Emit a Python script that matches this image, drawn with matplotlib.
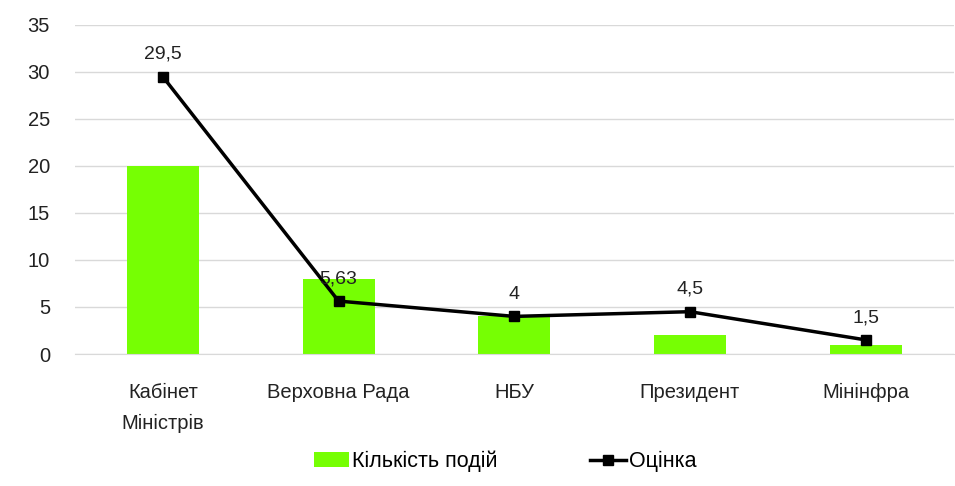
import matplotlib.pyplot as plt

categories = ['Кабінет\nМіністрів', 'Верховна Рада', 'НБУ', 'Президент', 'Мінінфра']
events = [20, 8, 4, 2, 1]
scores = [29.5, 5.63, 4, 4.5, 1.5]
score_labels = ['29,5', '5,63', '4', '4,5', '1,5']

plt.rcParams['font.family'] = ['Liberation Sans', 'DejaVu Sans']

fig = plt.figure(figsize=(9.55, 4.86), dpi=100)
ax = fig.add_axes([0.0785, 0.2716, 0.92, 0.677])

x = range(len(categories))
bars = ax.bar(x, events, 0.41, color='#76ff03', label='Кількість подій', zorder=2)
line, = ax.plot(x, scores, color='black', linewidth=2.5, marker='s', markersize=7,
                label='Оцінка', zorder=3)

for i, (v, s) in enumerate(zip(scores, score_labels)):
    ax.annotate(s, (i, v), xytext=(0, 10), textcoords='offset points',
                ha='center', va='bottom', fontsize=14, color='#222222')

ax.set_xlim(-0.5, len(categories) - 0.5)
ax.set_ylim(0, 35)
ax.set_yticks(range(0, 36, 5))
ax.set_xticks(list(x), categories)
for lbl in ax.get_xticklabels():
    lbl.set_linespacing(1.75)
ax.yaxis.grid(True, color='#d9d9d9', linewidth=1, zorder=0)
ax.tick_params(length=0, labelsize=14.5, colors='#222222')
ax.tick_params(axis='x', pad=21)
ax.tick_params(axis='y', pad=18)
for side in ['top', 'right', 'left']:
    ax.spines[side].set_visible(False)
ax.spines['bottom'].set_color('#d9d9d9')

fig.legend(handles=[bars, line], loc='center', bbox_to_anchor=(0.529, 0.05), ncol=2,
           frameon=False, fontsize=15.5, columnspacing=4.3, handlelength=1.65,
           handletextpad=0.15)

fig.savefig('out.png', dpi=100)
